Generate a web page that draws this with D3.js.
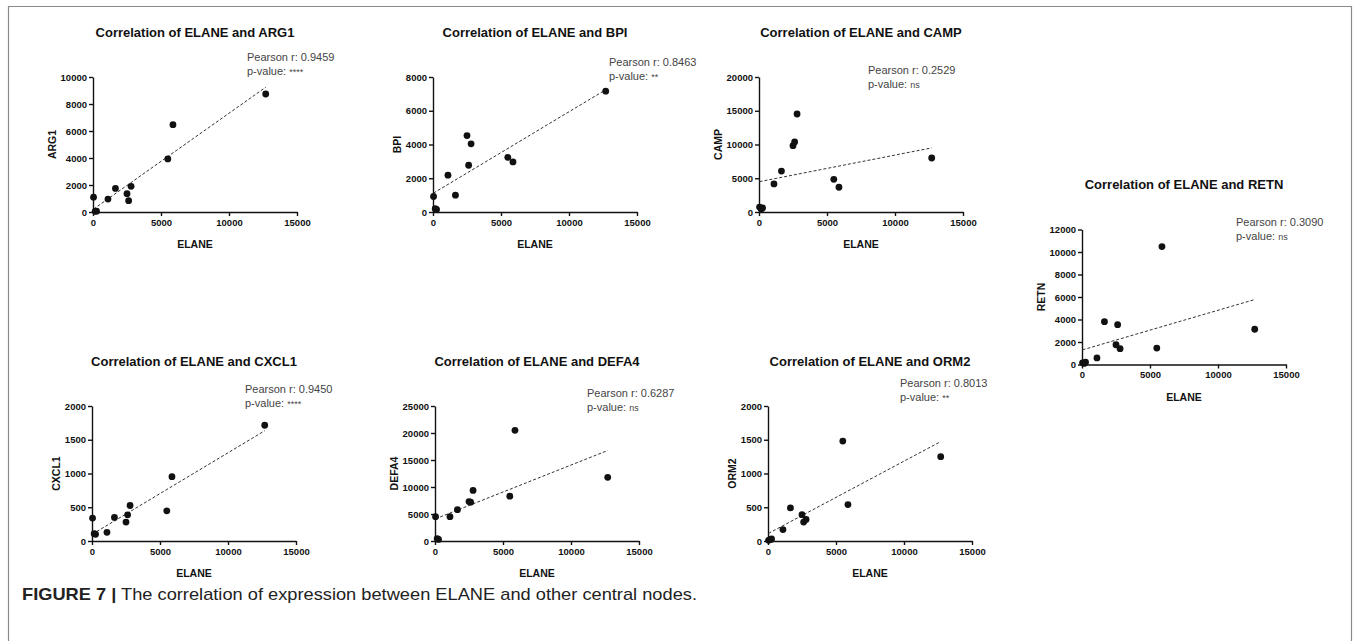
<!DOCTYPE html>
<html>
<head>
<meta charset="utf-8">
<script src="https://cdnjs.cloudflare.com/ajax/libs/d3/7.8.5/d3.min.js"></script>
<style>
  html, body { margin: 0; padding: 0; background: #fff; }
  svg { display: block; }
  text { font-family: "Liberation Sans", Arial, sans-serif; }
</style>
</head>
<body>
<svg id="fig" width="1357" height="641"></svg>
<script>
// ---------- data ----------
const elane = [40, 160, 260, 1100, 1650, 2500, 2620, 2800, 5500, 5880, 12700];
const arg1  = [1100, 50, 60, 960, 1750, 1360, 840, 1900, 3930, 6470, 8740];
const bpi   = [920, 195, 150, 2185, 995, 4530, 2770, 4040, 3240, 2970, 7160];
const camp  = [730, 440, 600, 4160, 6060, 9830, 10370, 14520, 4840, 3670, 8000];
const retn  = [146, 100, 200, 585, 3805, 1756, 3541, 1405, 1463, 10478, 3134];
const cxcl1 = [340, 108, 100, 128, 349, 280, 388, 526, 447, 953, 1715];
const defa4 = [4500, 440, 300, 4500, 5800, 7300, 7190, 9375, 8310, 20500, 11800];
const orm2  = [10, 20, 30, 170, 490, 390, 280, 320, 1480, 540, 1250];

const genes    = ["ARG1", "BPI", "CAMP", "RETN", "CXCL1", "DEFA4", "ORM2"];
const series   = [arg1, bpi, camp, retn, cxcl1, defa4, orm2];
const yMax     = [10000, 8000, 20000, 12000, 2000, 25000, 2000];
const yStep    = [2000, 2000, 5000, 2000, 500, 5000, 500];
const pearsonR = ["0.9459", "0.8463", "0.2529", "0.3090", "0.9450", "0.6287", "0.8013"];
const pValue   = ["****", "**", "ns", "ns", "****", "ns", "**"];
const xTicks   = [0, 5000, 10000, 15000];
const xMax     = 15000;
const captionBold = "FIGURE 7 |";
const captionText = " The correlation of expression between ELANE and other central nodes.";

// ---------- layout ----------
const W = 204, H = 135;
const layout = [
  { x0: 93,   top: 77,    px: 247,  py: 57 },
  { x0: 433,  top: 77,    px: 609,  py: 62 },
  { x0: 759,  top: 77,    px: 868,  py: 70 },
  { x0: 1082, top: 229.5, px: 1236, py: 222 },
  { x0: 92,   top: 406,   px: 245,  py: 389 },
  { x0: 435,  top: 406,   px: 587,  py: 393 },
  { x0: 768,  top: 406,   px: 900,  py: 383 }
];

const svg = d3.select("#fig");
svg.append("rect").attr("width", 1357).attr("height", 641).attr("fill", "#fff");

// frame
const frame = svg.append("g").attr("stroke", "#8a8a8a").attr("stroke-width", 1.2).attr("fill", "none");
frame.append("path").attr("d", "M8.5,641 V6.5 H1351.5 V641");

function linreg(xs, ys) {
  const mx = d3.mean(xs), my = d3.mean(ys);
  let sxy = 0, sxx = 0;
  xs.forEach((x, i) => { sxy += (x - mx) * (ys[i] - my); sxx += (x - mx) * (x - mx); });
  const b = sxy / sxx;
  return { b, a: my - b * mx };
}

genes.forEach((g, i) => {
  const L = layout[i];
  const x = d3.scaleLinear().domain([0, xMax]).range([L.x0, L.x0 + W]);
  const y = d3.scaleLinear().domain([0, yMax[i]]).range([L.top + H, L.top]);
  const panel = svg.append("g");

  // title
  panel.append("text")
    .attr("x", L.x0 + W / 2).attr("y", L.top - 40.5)
    .attr("text-anchor", "middle")
    .attr("font-weight", "bold").attr("font-size", 13).attr("fill", "#111")
    .text("Correlation of ELANE and " + g);

  // axes
  const yAxis = d3.axisLeft(y)
    .tickValues(d3.range(0, yMax[i] + 1, yStep[i]))
    .tickFormat(d3.format("d")).tickSize(4).tickSizeOuter(0).tickPadding(2);
  const xAxis = d3.axisBottom(x)
    .tickValues(xTicks).tickFormat(d3.format("d")).tickSize(4).tickSizeOuter(0).tickPadding(3);

  const gy = panel.append("g").attr("transform", `translate(${L.x0},0)`).call(yAxis);
  const gx = panel.append("g").attr("transform", `translate(0,${L.top + H})`).call(xAxis);
  [gx, gy].forEach(ax => {
    ax.selectAll("path, line").attr("stroke", "#111").attr("stroke-width", 1.4);
    ax.selectAll("text").attr("font-family", "'Liberation Sans', Arial, sans-serif")
      .attr("font-size", 9.5).attr("font-weight", "bold").attr("fill", "#111");
  });

  // axis titles
  let minLeft = Infinity;
  gy.selectAll("text").each(function () {
    const bb = this.getBBox();
    minLeft = Math.min(minLeft, L.x0 + bb.x);
  });
  panel.append("text")
    .attr("x", L.x0 + W / 2).attr("y", L.top + H + 36)
    .attr("text-anchor", "middle").attr("font-weight", "bold").attr("font-size", 10.5).attr("fill", "#111")
    .text("ELANE");
  panel.append("text")
    .attr("transform", `translate(${minLeft - 5},${L.top + H / 2}) rotate(-90)`)
    .attr("text-anchor", "middle").attr("font-weight", "bold").attr("font-size", 10.5).attr("fill", "#111")
    .text(g);

  // regression line
  const r = linreg(elane, series[i]);
  const x1 = d3.min(elane), x2 = d3.max(elane);
  panel.append("line")
    .attr("x1", x(x1)).attr("y1", y(r.a + r.b * x1))
    .attr("x2", x(x2)).attr("y2", y(r.a + r.b * x2))
    .attr("stroke", "#333").attr("stroke-width", 1).attr("stroke-dasharray", "3,2");

  // points
  panel.selectAll("circle").data(elane.map((e, k) => [e, series[i][k]])).join("circle")
    .attr("cx", d => x(d[0])).attr("cy", d => y(d[1])).attr("r", 3.4).attr("fill", "#111");

  // annotation
  const ann = panel.append("g").attr("fill", "#444").attr("font-size", 11);
  ann.append("text").attr("x", L.px).attr("y", L.py + 4).text("Pearson r: " + pearsonR[i]);
  const t2 = ann.append("text").attr("x", L.px).attr("y", L.py + 17.5);
  t2.append("tspan").text("p-value: ");
  t2.append("tspan").attr("font-size", 9).text(pValue[i]);
});

// caption
const cap = svg.append("text").attr("x", 22).attr("y", 600).attr("font-size", 17).attr("fill", "#222");
cap.append("tspan").attr("font-weight", "bold").text(captionBold);
cap.append("tspan").text(captionText);
cap.attr("textLength", 675).attr("lengthAdjust", "spacingAndGlyphs");
</script>
</body>
</html>
